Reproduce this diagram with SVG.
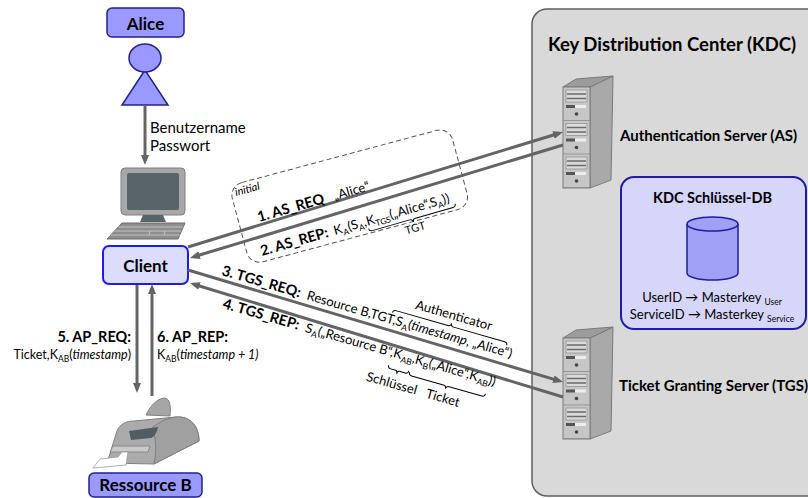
<svg xmlns="http://www.w3.org/2000/svg" width="808" height="498" viewBox="0 0 808 498">
  <defs>
    <style>
      text { font-family: Lato, "Liberation Sans", sans-serif; fill: #000; }
      .b { font-weight: bold; }
      .i { font-style: italic; }
      .sub { font-size: 8.5px; }
      .conn { stroke: #646464; stroke-width: 3; fill: none; }
      .brace { stroke: #000; stroke-width: 1; fill: none; }
      .actor { fill: #9999ff; stroke: #22228a; stroke-width: 1.5; }
      .sv-edge { stroke: #7a7a7a; stroke-width: 1; }
    </style>
    <marker id="arrow" viewBox="0 0 10 8" refX="6" refY="4" markerWidth="10" markerHeight="8" markerUnits="userSpaceOnUse" orient="auto">
      <path d="M0,0 L10,4 L0,8 Z" fill="#646464"/>
    </marker>
    <!-- tower server, origin at the top-left of its bounding box -->
    <g id="server">
      <polygon points="27,11 50,0 48,104 27,112" fill="#a9a9a9" class="sv-edge"/>
      <polygon points="0,11 13,3 50,0 27,11" fill="#9c9c9c" class="sv-edge"/>
      <rect x="0" y="11" width="27" height="101" fill="#c6c6c6" class="sv-edge"/>
      <g id="unit">
        <rect x="3" y="14" width="21" height="12" fill="#dadada" stroke="#8a8a8a" stroke-width="0.7"/>
        <line x1="4" y1="18" x2="23" y2="18" stroke="#6a6a6a" stroke-width="1.5"/>
        <line x1="4" y1="22.5" x2="23" y2="22.5" stroke="#6a6a6a" stroke-width="1.5"/>
        <rect x="3" y="29" width="9" height="3" fill="#555"/>
        <rect x="12" y="29" width="11" height="3" fill="#ededed"/>
        <circle cx="13.5" cy="38" r="1.8" fill="#444"/>
        <line x1="0" y1="44.5" x2="27" y2="44.5" stroke="#8a8a8a" stroke-width="0.8"/>
      </g>
      <use href="#unit" y="33.5"/>
      <use href="#unit" y="67"/>
    </g>
  </defs>

  <!-- Key Distribution Center container -->
  <g id="kdc">
    <rect x="532" y="9" width="290" height="487" rx="15" fill="#d9d9d9" stroke="#5f5f5f" stroke-width="1.5"/>
    <text x="672" y="51" class="b" font-size="18.5" text-anchor="middle">Key Distribution Center (KDC)</text>
  </g>

  <g id="as-server">
    <use href="#server" x="563" y="76"/>
    <text x="620" y="141" class="b" font-size="15">Authentication Server (AS)</text>
  </g>

  <g id="tgs-server">
    <use href="#server" x="563" y="327"/>
    <text x="619" y="391" class="b" font-size="15">Ticket Granting Server (TGS)</text>
  </g>

  <g id="kdc-db">
    <rect x="621" y="177" width="185" height="152" rx="13" fill="#d6d6fa" stroke="#1c1ca8" stroke-width="2"/>
    <text x="712.5" y="203" class="b" font-size="14.5" text-anchor="middle">KDC Schlüssel-DB</text>
    <path d="M687,224 L687,273 A25.5,7 0 0 0 738,273 L738,224" fill="#a0a0f5" stroke="#1c1ca8" stroke-width="1.5"/>
    <ellipse cx="712.5" cy="224" rx="25.5" ry="7" fill="#a0a0f5" stroke="#1c1ca8" stroke-width="1.5"/>
    <text x="712" y="302" font-size="13" text-anchor="middle">UserID → Masterkey <tspan class="sub" font-size="8" dy="2.5">User</tspan></text>
    <text x="712" y="319" font-size="13" text-anchor="middle">ServiceID → Masterkey <tspan class="sub" font-size="8" dy="2.5">Service</tspan></text>
  </g>

  <g id="alice">
    <rect x="107" y="8" width="77" height="29" rx="5" fill="#9999ff" stroke="#22228a" stroke-width="1.5"/>
    <text x="145.5" y="30" class="b" font-size="17" text-anchor="middle">Alice</text>
    <polygon points="145,70 122,105 168,105" class="actor"/>
    <ellipse cx="145" cy="58" rx="16" ry="14" class="actor"/>
  </g>

  <g id="computer">
    <rect x="121" y="168" width="64" height="47" rx="4" fill="#a7a7a7" stroke="#7f7f7f"/>
    <rect x="127" y="173" width="52" height="37" rx="2" fill="#58636a"/>
    <polygon points="143,215 163,215 166,222 140,222" fill="#58636a"/>
    <polygon points="122,223 185,223 178,239 107,239" fill="#8e8e8e" stroke="#6d6d6d"/>
    <g stroke="#cfcfcf" stroke-width="0.8">
      <line x1="118.3" y1="227" x2="183.3" y2="227"/>
      <line x1="114.5" y1="231" x2="181.5" y2="231"/>
      <line x1="110.8" y1="235" x2="179.8" y2="235"/>
      <line x1="150" y1="231" x2="149" y2="235"/>
      <line x1="165" y1="231" x2="164" y2="235"/>
    </g>
  </g>

  <g id="client">
    <rect x="103" y="246" width="85" height="38" rx="6" fill="#dcdcfc" stroke="#1c1cf0" stroke-width="2"/>
    <text x="145.5" y="272" class="b" font-size="17" text-anchor="middle">Client</text>
  </g>

  <g id="ressource-b">
    <path d="M146,415 C150,406 157,399 164,398 C170,398 171,406 170,416 Z" fill="#a6a6a6" stroke="#808080"/>
    <path d="M107,463 L117,431 C120,424 126,421 134,421 L176,417 C191,416 199,427 199,441 L154,464 Z" fill="#ababab" stroke="#7f7f7f"/>
    <path d="M176,417 C191,416 199,427 199,441 L154,464 C157,450 156,438 152,428 C160,421 168,418 176,417 Z" fill="#a0a0a0" stroke="#7f7f7f"/>
    <path d="M129,431 L158,427 C157,432 155,436 151,438 L131,440 Z" fill="#525d63"/>
    <path d="M110,452 L113,446 L150,446 L148,452 Z" fill="#c9c9c9" stroke="#7f7f7f" stroke-width="0.8"/>
    <path d="M93,468 L100,459 L118,457 L122,452 L128,452 L126,465 Z" fill="#ffffff" stroke="#9a9a9a" stroke-width="0.8"/>
    <rect x="89" y="473" width="113" height="24" rx="5" fill="#9999ff" stroke="#22228a" stroke-width="1.5"/>
    <text x="145.5" y="491" class="b" font-size="17" text-anchor="middle">Ressource B</text>
  </g>

  <!-- initial exchange frame -->
  <rect x="0" y="0" width="228" height="82" rx="13" transform="translate(229,186) rotate(-15)" fill="none" stroke="#555" stroke-width="1" stroke-dasharray="5,3"/>
  <text transform="translate(236,196) rotate(-15)" class="i" font-size="11">initial</text>

  <!-- connectors -->
  <g id="connectors">
    <line x1="145" y1="105" x2="145" y2="161" class="conn" marker-end="url(#arrow)"/>
    <line x1="188" y1="247" x2="559.2" y2="133.2" class="conn" marker-end="url(#arrow)"/>
    <line x1="563" y1="145" x2="193.8" y2="256.8" class="conn" marker-end="url(#arrow)"/>
    <line x1="188" y1="270" x2="559.2" y2="380.9" class="conn" marker-end="url(#arrow)"/>
    <line x1="563" y1="397" x2="193.8" y2="284.2" class="conn" marker-end="url(#arrow)"/>
    <line x1="137" y1="285" x2="137" y2="389" class="conn" marker-end="url(#arrow)"/>
    <line x1="152" y1="396" x2="152" y2="288" class="conn" marker-end="url(#arrow)"/>
  </g>

  <!-- message labels -->
  <text x="150" y="133" font-size="15">Benutzername</text>
  <text x="150" y="151" font-size="15">Passwort</text>

  <g transform="translate(259,222) rotate(-16)">
    <text><tspan class="b" font-size="14.5">1. AS_REQ</tspan><tspan font-size="13" dx="10">„Alice“</tspan></text>
  </g>

  <g transform="translate(262,256) rotate(-16)">
    <text font-size="13"><tspan class="b" font-size="14.5">2. AS_REP:</tspan><tspan dx="6">K</tspan><tspan class="sub" dy="3">A</tspan><tspan dy="-3">(S</tspan><tspan class="sub" dy="3">A</tspan><tspan dy="-3">,K</tspan><tspan class="sub" dy="3">TGS</tspan><tspan dy="-3">(„Alice“,S</tspan><tspan class="sub" dy="3">A</tspan><tspan dy="-3">))</tspan></text>
    <path class="brace" d="M110,3 Q110,6 113,6 L152,6 Q155,6 155,9 Q155,6 158,6 L197,6 Q200,6 200,3"/>
    <text x="155" y="19" font-size="11" text-anchor="middle">TGT</text>
  </g>

  <g transform="translate(221,275) rotate(16)">
    <text font-size="13"><tspan class="b" font-size="14.5">3. TGS_REQ:</tspan><tspan dx="7">Resource B,TGT,S</tspan><tspan class="sub" dy="3">A</tspan><tspan dy="-3">(</tspan><tspan class="i">timestamp</tspan><tspan>, „Alice“)</tspan></text>
    <path class="brace" d="M175,-11 Q175,-14 178,-14 L232,-14 Q235,-14 235,-17 Q235,-14 238,-14 L291,-14 Q294,-14 294,-11"/>
    <text x="235" y="-21" font-size="13" text-anchor="middle">Authenticator</text>
  </g>

  <g transform="translate(222,308) rotate(16)">
    <text font-size="13"><tspan class="b" font-size="14.5">4. TGS_REP:</tspan><tspan dx="7">S</tspan><tspan class="sub" dy="3">A</tspan><tspan dy="-3">(„Resource B“,K</tspan><tspan class="sub" dy="3">AB</tspan><tspan dy="-3">,K</tspan><tspan class="sub" dy="3">B</tspan><tspan dy="-3">(„Alice“,K</tspan><tspan class="sub" dy="3">AB</tspan><tspan dy="-3">))</tspan></text>
    <path class="brace" d="M176,9 Q176,12 179,12 L184,12 Q186,12 186,15 Q186,12 188,12 L194,12 Q197,12 197,9"/>
    <path class="brace" d="M198,10 Q198,13 201,13 L234,13 Q237,13 237,16 Q237,13 240,13 L274,13 Q277,13 277,10"/>
    <text x="184" y="30" font-size="13" text-anchor="middle">Schlüssel</text>
    <text x="237" y="30" font-size="13" text-anchor="middle">Ticket</text>
  </g>

  <text x="131" y="342" class="b" font-size="14.5" text-anchor="end">5. AP_REQ:</text>
  <text x="131" y="359" font-size="12.5" text-anchor="end">Ticket,K<tspan class="sub" dy="3">AB</tspan><tspan dy="-3">(</tspan><tspan class="i">timestamp</tspan>)</text>
  <text x="157" y="342" class="b" font-size="14.5">6. AP_REP:</text>
  <text x="157" y="359" font-size="12.5">K<tspan class="sub" dy="3">AB</tspan><tspan dy="-3">(</tspan><tspan class="i">timestamp + 1)</tspan></text>
</svg>
